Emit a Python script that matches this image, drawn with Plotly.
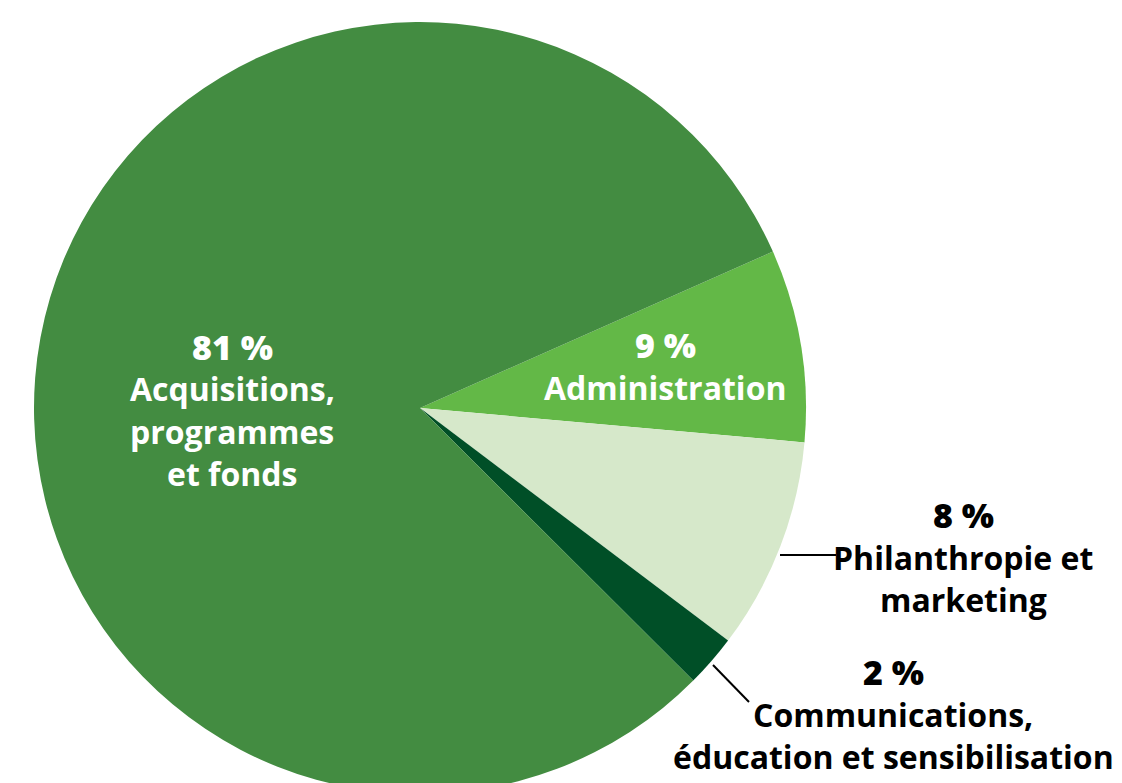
import plotly.graph_objects as go

# Data (slice sizes; labels as printed)
categories = ["Administration", "Philanthropie et marketing",
              "Communications, éducation et sensibilisation",
              "Acquisitions, programmes et fonds"]
values = [8.06, 8.87, 2.19, 80.88]
pct_labels = ["9 %", "8 %", "2 %", "81 %"]
label_lines = [["Administration"],
               ["Philanthropie et", "marketing"],
               ["Communications,", "éducation et sensibilisation"],
               ["Acquisitions,", "programmes", "et fonds"]]
colors = ["#63B847", "#D6E8CA", "#004F27", "#438C41"]

W, H = 1122, 800
cx, cy, R = 420, 408, 386

def px(x):
    return x / W

def py(y):
    return (H - y) / H

fig = go.Figure(go.Pie(
    labels=categories, values=values, sort=False, direction="clockwise",
    rotation=66.1, marker=dict(colors=colors, line=dict(width=0)),
    textinfo="none", hoverinfo="skip", showlegend=False,
    domain=dict(x=[px(cx - R), px(cx + R)], y=[py(cy + R), py(cy - R)]),
))

# label blocks: (center x, y of first line, text color)
blocks = [(665, 345, "white"), (963, 515, "black"), (893, 672, "black"), (232, 347, "white")]
LS = 42
annotations = []
for (bx, by, col), pct, lines in zip(blocks, pct_labels, label_lines):
    annotations.append(dict(x=px(bx), y=py(by), xref="paper", yref="paper",
                            text=pct, showarrow=False, xanchor="center", yanchor="middle",
                            font=dict(family="Open Sans", size=34, color=col, weight=800)))
    for i, ln in enumerate(lines):
        annotations.append(dict(x=px(bx), y=py(by + LS * (i + 1)), xref="paper", yref="paper",
                                text=ln, showarrow=False, xanchor="center", yanchor="middle",
                                font=dict(family="Open Sans", size=32, color=col, weight=700)))

shapes = [
    dict(type="line", xref="paper", yref="paper", x0=px(780), y0=py(555), x1=px(836), y1=py(555),
         line=dict(color="black", width=2)),
    dict(type="line", xref="paper", yref="paper", x0=px(713), y0=py(665), x1=px(749), y1=py(702),
         line=dict(color="black", width=2)),
]

fig.update_layout(width=W, height=H, margin=dict(l=0, r=0, t=0, b=0),
                  paper_bgcolor="white", plot_bgcolor="white",
                  annotations=annotations, shapes=shapes)

fig.write_html("out.html", config={"displayModeBar": False},
               post_script="document.body.style.margin='0';document.documentElement.style.overflow='hidden';document.body.style.overflow='hidden';")
